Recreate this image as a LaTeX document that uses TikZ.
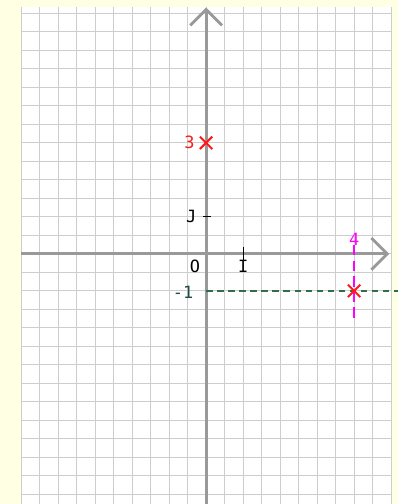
\documentclass[tikz,border=0pt]{standalone}
\usepackage{fontspec}
\setmonofont{DejaVu Sans Mono}
\usetikzlibrary{arrows.meta,shapes.misc,positioning}
\definecolor{PaperCream}{HTML}{FFFFE3}
\definecolor{GridGray}{HTML}{CDCDCD}
\definecolor{AxisGray}{HTML}{999999}
\definecolor{MarkRed}{HTML}{FF1A1A}
\definecolor{LineGreen}{HTML}{2E6E4A}
\definecolor{LabelGreen}{HTML}{1F4F44}
\definecolor{LineMagenta}{HTML}{FF00FF}

\begin{document}
\begin{tikzpicture}[
  lbl/.style={font=\ttfamily\fontsize{13}{15}\selectfont, inner sep=1pt},
  axis/.style={line width=2.2pt, AxisGray, -{Straight Barb[length=4.3mm, width=8.6mm, line width=2.2pt]}},
  crossmark/.style={cross out, draw=MarkRed, line width=1.6pt, minimum size=2.8mm, inner sep=0pt},
  hdash/.style={LineGreen, line width=1.5pt, dash pattern=on 5pt off 3.5pt},
  vdash/.style={LineMagenta, line width=1.5pt, dash pattern=on 8pt off 4pt}
]
\useasboundingbox[fill=PaperCream] (-5.57,-6.76) rectangle (5.19,6.86);
\fill[white] (-5,-6.76) rectangle (5,6.68);
\draw[GridGray, line width=0.6pt] (-5,-6.76) grid[step=0.5] (5,6.68);
% axes
\draw[axis] (0,-6.76) -- (0,6.66);
\draw[axis] (-5,0) -- (4.95,0);
% unit marks
\draw[black, line width=0.6pt] (1,0.19) -- (1,-0.16);
\draw[black, line width=0.6pt] (-0.08,1) -- (0.14,1);
\node[lbl] (o) at (-0.3,-0.35) {O};
\node[lbl] (i) at (1,-0.33) {I};
\node[lbl] (j) at (-0.4,1) {J};
% dashed guides
\coordinate (ym) at (0,-1);
\coordinate (xe) at (5.19,-1);
\coordinate (mt) at (4,0.24);
\coordinate (mb) at (4,-1.73);
\draw[hdash] (ym) -- (xe);
\draw[vdash] (mt) -- (mb);
% points
\node[crossmark] (a) at (0,3) {};
\node[lbl, text=MarkRed, left=3pt of a] (ya) {3};
\node[crossmark] (m) at (4,-1) {};
\node[lbl, text=LabelGreen] (yl) at (-0.62,-1.05) {-1};
\node[lbl, text=LineMagenta] (xl) at (4,0.38) {4};
\end{tikzpicture}
\end{document}
